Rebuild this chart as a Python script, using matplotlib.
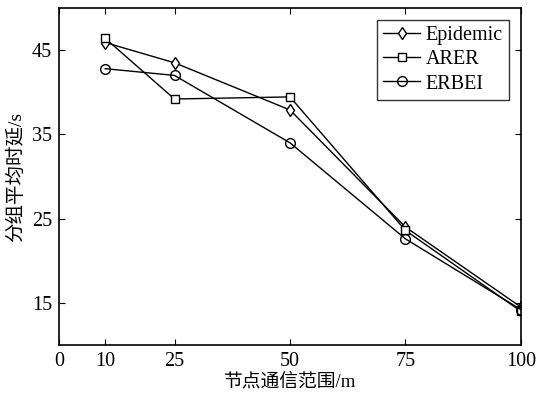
import numpy as np
import matplotlib
matplotlib.use("Agg")
import matplotlib.pyplot as plt

plt.rcParams['font.family'] = ['Liberation Serif', 'Noto Sans CJK SC']

# 数据
x = [10, 25, 50, 75, 100]
epidemic = [45.9, 43.5, 37.9, 24.0, 14.5]
arer = [46.4, 39.2, 39.45, 23.6, 14.0]
erbei = [42.8, 42.0, 34.0, 22.6, 14.2]
xticks = [0, 10, 25, 50, 75, 100]
yticks = [15, 25, 35, 45]

fig = plt.figure(figsize=(5.39, 3.93), dpi=100)
ax = fig.add_axes([0.1095, 0.1221, 0.857, 0.8575])

ax.plot(x, epidemic, color='k', lw=1, marker='d', ms=6, mfc='white', mec='k', mew=1, label='Epidemic')
ax.plot(x, arer, color='k', lw=1, marker='s', ms=6, mfc='white', mec='k', mew=1, label='ARER')
ax.plot(x, erbei, color='k', lw=1, marker='o', ms=7, mfc='none', mec='k', mew=1, label='ERBEI')

ax.set_xlim(0, 100)
ax.set_ylim(10, 50)
ax.set_xticks(xticks)
ax.set_yticks(yticks)
ax.tick_params(direction='in', top=True, right=True, length=4, labelsize=14.5, width=0.8, pad=5)
for s in ax.spines.values():
    s.set_linewidth(1.2)

ax.set_xlabel('节点通信范围/m', fontsize=13.5, labelpad=1)
ax.set_ylabel('分组平均时延/s', fontsize=14, labelpad=5)

leg = ax.legend(loc='upper right', fontsize=14.5, frameon=True, fancybox=False,
                edgecolor='k', handlelength=1.8, handletextpad=0.3,
                borderpad=0.3, labelspacing=0.25, borderaxespad=0.6)
leg.get_frame().set_linewidth(1.0)

fig.savefig('out.png', dpi=100)
